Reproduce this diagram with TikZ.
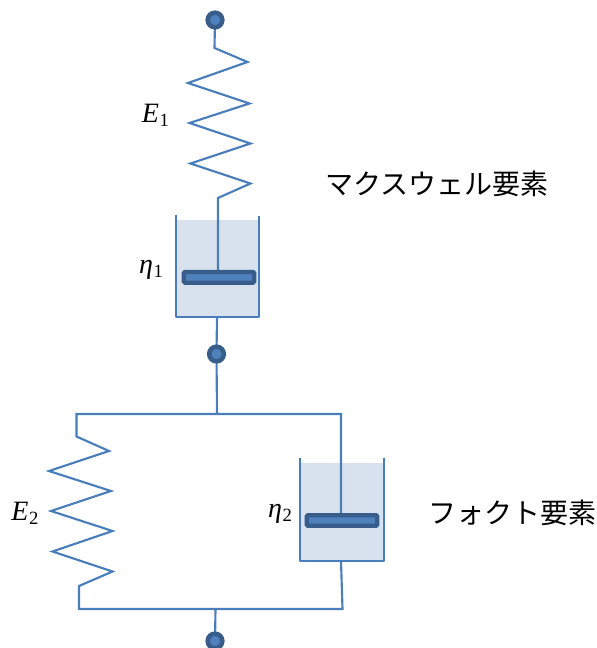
\documentclass[tikz,border=0pt]{standalone}
\usepackage{fontspec}
\newfontfamily\jpfont{Noto Sans CJK JP}
\newfontfamily\symfont{Liberation Serif}
\newcommand{\symsub}[2]{{\symfont\fontsize{21pt}{24pt}\selectfont\itshape #1\kern0.5pt\lower3.2pt\hbox{\upshape\fontsize{14pt}{16pt}\selectfont #2}}}
\definecolor{linecol}{HTML}{4A7EBB}
\definecolor{darkcol}{HTML}{385D8A}
\definecolor{midcol}{HTML}{4F81BD}
\definecolor{oilcol}{HTML}{D7E2EE}
\tikzset{
  wire/.style={draw=linecol,line width=1.6pt,line join=miter},
  terminal/.style={circle,draw=darkcol,fill=midcol,line width=3.4pt,minimum size=11pt,inner sep=0pt},
  piston/.style={draw=darkcol,fill=midcol,line width=3.2pt,rounded corners=1pt,inner sep=0pt,minimum width=53pt,minimum height=8pt},
  oil/.style={fill=oilcol,draw=none},
  jplabel/.style={font=\jpfont\fontsize{21pt}{24pt}\selectfont,inner sep=0pt,anchor=west,text=black},
  mathlabel/.style={inner sep=0pt,text=black}
}
\begin{document}
\begin{tikzpicture}[x=0.75pt,y=-0.75pt]
\useasboundingbox (0,0) rectangle (596,648);
\clip (0,0) rectangle (596,648);
% oil
\fill[oil] (177,220) rectangle (258.5,316);
\fill[oil] (301,463) rectangle (383.5,560);
% coordinates
\coordinate (t1c) at (215,20);
\coordinate (t2c) at (216.5,354);
\coordinate (t3c) at (215,641);
\coordinate (s1a) at (214.5,48);
\coordinate (s1b) at (218,198);
\coordinate (d1b) at (217,317);
\coordinate (jt) at (217,414);
\coordinate (tl) at (76.5,414);
\coordinate (tr) at (341,414);
\coordinate (s2a) at (76.5,436.5);
\coordinate (s2b) at (79,586);
\coordinate (bl) at (79,609);
\coordinate (br) at (342.5,609);
\coordinate (d2b) at (341,561);
\coordinate (jb) at (215.5,609);
\coordinate (p1top) at (218,270);
\coordinate (p2top) at (341,513);
% spring 1
\draw[wire] (t1c) -- (s1a) -- (247.5,62) -- (188,83) -- (249.5,103.5) -- (189.5,123) -- (250.5,143.5) -- (190.5,163.5) -- (250.5,183.5) -- (s1b) -- (p1top);
% dashpot 1
\draw[wire,line join=round] (176,215) -- (176,317) -- (259.3,317) -- (259.3,216);
\draw[wire] (d1b) -- (t2c) -- (jt);
% frame with spring 2
\draw[wire] (p2top) -- (tr) -- (tl) -- (s2a) -- (109,451) -- (49,471) -- (111,491) -- (51,511) -- (112.5,531) -- (52.5,551.5) -- (112.5,571.5) -- (s2b) -- (bl) -- (br) -- (d2b);
% dashpot 2
\draw[wire,line join=round] (300,458) -- (300,561) -- (384,561) -- (384,458);
\draw[wire] (jb) -- (t3c);
% terminals and pistons
\node[terminal] (t1) at (t1c) {};
\node[terminal] (t2) at (t2c) {};
\node[terminal] (t3) at (t3c) {};
\node[piston] (p1) at (219,277.3) {};
\node[piston] (p2) at (342,520.5) {};
% labels
\node[mathlabel] (lE1) at (155.5,115.5) {\symsub{E}{1}};
\node[mathlabel] (le1) at (151,269.5) {\symsub{η}{1}};
\node[mathlabel] (lE2) at (25,513.5) {\symsub{E}{2}};
\node[mathlabel] (le2) at (280,514) {\symsub{η}{2}};
\node[jplabel] (m) at (325,184) {マクスウェル要素};
\node[jplabel] (v) at (428,513) {フォクト要素};
\end{tikzpicture}
\end{document}
